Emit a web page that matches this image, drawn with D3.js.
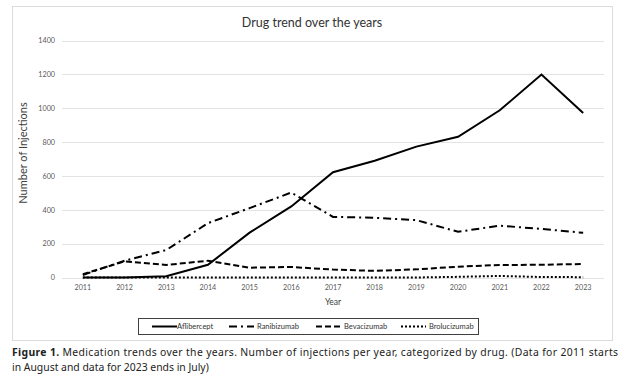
<!DOCTYPE html>
<html>
<head>
<meta charset="utf-8">
<script src="https://cdn.jsdelivr.net/npm/d3@7"></script>
<style>
  body { margin: 0; background: #fff; }
  svg { display: block; }
</style>
</head>
<body>
<svg width="624" height="381"></svg>
<script>
// data
const years = ["2011","2012","2013","2014","2015","2016","2017","2018","2019","2020","2021","2022","2023"];
const aflibercept  = [0, 0, 8, 75, 265, 420, 622, 690, 773, 831, 988, 1199, 972];
const ranibizumab  = [15, 99, 162, 321, 410, 502, 358, 353, 339, 270, 306, 287, 264];
const bevacizumab  = [20, 95, 74, 99, 58, 62, 47, 39, 48, 64, 74, 75, 80];
const brolucizumab = [0, 0, 0, 0, 0, 0, 0, 0, 0, 4, 9, 3, 2];
const yTicks = [0, 200, 400, 600, 800, 1000, 1200, 1400];

const series = [
    { name: "Aflibercept",  values: aflibercept,  dash: null },
    { name: "Ranibizumab",  values: ranibizumab,  dash: "8,4,2,4" },
    { name: "Bevacizumab",  values: bevacizumab,  dash: "6,3" },
    { name: "Brolucizumab", values: brolucizumab, dash: "2,2" }
];

const svg = d3.select("svg");
const font = "Lato, 'Open Sans', sans-serif";

// outer chart frame
svg.append("rect")
    .attr("x", 12.5).attr("y", 6.5)
    .attr("width", 600).attr("height", 334)
    .attr("fill", "none")
    .attr("stroke", "#dcdcdc");

const x = d3.scaleBand().domain(years).range([62, 604]);
const y = d3.scaleLinear().domain([0, 1400]).range([277.5, 40.5]);
const cx = d => x(d) + x.bandwidth() / 2;

// gridlines
svg.append("g")
    .selectAll("line")
    .data(yTicks)
    .join("line")
    .attr("x1", 62).attr("x2", 604)
    .attr("y1", d => Math.round(y(d)) + 0.5)
    .attr("y2", d => Math.round(y(d)) + 0.5)
    .attr("stroke", "#e3e3e3");

// y axis labels
const yAxis = svg.append("g")
    .attr("transform", "translate(62,0)")
    .call(d3.axisLeft(y).tickValues(yTicks).tickFormat(d3.format("d")).tickSize(0).tickPadding(7));
yAxis.select(".domain").remove();
yAxis.selectAll("text")
    .attr("font-family", font)
    .attr("font-size", 7.2)
    .attr("fill", "#595959");

// x axis labels
const xAxis = svg.append("g")
    .attr("transform", "translate(0,278)")
    .call(d3.axisBottom(x).tickSize(0).tickPadding(7));
xAxis.select(".domain").remove();
xAxis.selectAll("text")
    .attr("font-family", font)
    .attr("font-size", 7.2)
    .attr("fill", "#595959");

// title and axis titles
svg.append("text")
    .attr("x", 312).attr("y", 27)
    .attr("text-anchor", "middle")
    .attr("font-family", font)
    .attr("font-size", 12.5)
    .attr("fill", "#333")
    .text("Drug trend over the years");

svg.append("text")
    .attr("x", 333).attr("y", 305)
    .attr("text-anchor", "middle")
    .attr("font-family", font)
    .attr("font-size", 8.5)
    .attr("fill", "#404040")
    .text("Year");

svg.append("text")
    .attr("transform", "translate(27,153) rotate(-90)")
    .attr("text-anchor", "middle")
    .attr("font-family", font)
    .attr("font-size", 11)
    .attr("fill", "#404040")
    .text("Number of Injections");

// lines
const line = d3.line()
    .x((d, i) => cx(years[i]))
    .y(d => y(d));

svg.append("g")
    .selectAll("path")
    .data(series)
    .join("path")
    .attr("d", d => line(d.values))
    .attr("fill", "none")
    .attr("stroke", "#000")
    .attr("stroke-width", 2)
    .attr("stroke-dasharray", d => d.dash);

// legend
const legend = svg.append("g");
legend.append("rect")
    .attr("x", 138.5).attr("y", 318.5)
    .attr("width", 340).attr("height", 16)
    .attr("fill", "#fff")
    .attr("stroke", "#404040");

const legendX = [152, 229, 316, 401];
const item = legend.selectAll(".item")
    .data(series)
    .join("g")
    .attr("class", "item")
    .attr("transform", (d, i) => `translate(${legendX[i]},326.5)`);
item.append("line")
    .attr("x1", 0).attr("x2", 25)
    .attr("stroke", "#000")
    .attr("stroke-width", 2)
    .attr("stroke-dasharray", d => d.dash);
item.append("text")
    .attr("x", d => d.dash ? 28 : 25)
    .attr("y", 2.7)
    .attr("font-family", font)
    .attr("font-size", 7.5)
    .attr("fill", "#333")
    .text(d => d.name);

// caption
const cap = svg.append("g")
    .attr("font-family", "'Noto Sans', 'Open Sans', sans-serif")
    .attr("font-size", 10.4)
    .attr("fill", "#222");
const l1 = cap.append("text").attr("x", 12).attr("y", 356);
l1.append("tspan").attr("font-weight", "bold").text("Figure 1.");
l1.append("tspan").text(" Medication trends over the years. Number of injections per year, categorized by drug. (Data for 2011 starts");
cap.append("text").attr("x", 12).attr("y", 371)
    .text("in August and data for 2023 ends in July)");

// stretch the first caption line to the reference width
const w = l1.node().getComputedTextLength();
if (w > 0) l1.attr("textLength", 606).attr("lengthAdjust", "spacing");
</script>
</body>
</html>
